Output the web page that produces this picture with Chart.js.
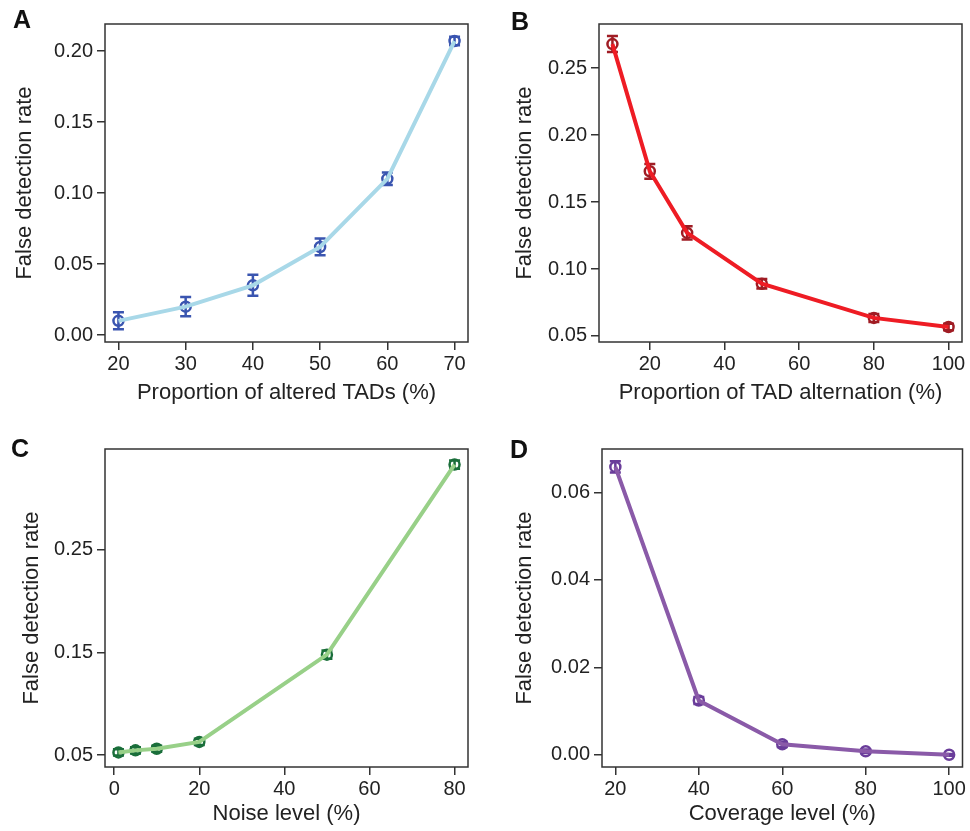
<!DOCTYPE html>
<html>
<head>
<meta charset="utf-8">
<script src="https://cdn.jsdelivr.net/npm/chart.js@4.4.1/dist/chart.umd.min.js"></script>
<style>
    body { margin: 0; background: #fff; width: 970px; height: 831px; position: relative; overflow: hidden; font-family: "Liberation Sans", Arial, sans-serif; }
    canvas { position: absolute; }
    .tag { position: absolute; font-weight: bold; font-size: 25px; line-height: 25px; color: #111; }
</style>
</head>
<body>
<canvas id="chartA" width="485" height="410" style="left:0;top:0"></canvas>
<canvas id="chartB" width="485" height="410" style="left:485px;top:0"></canvas>
<canvas id="chartC" width="485" height="421" style="left:0;top:410px"></canvas>
<canvas id="chartD" width="485" height="421" style="left:485px;top:410px"></canvas>
<div class="tag" style="left:13px;top:7px">A</div>
<div class="tag" style="left:511px;top:9px">B</div>
<div class="tag" style="left:11px;top:436px">C</div>
<div class="tag" style="left:510px;top:437px">D</div>
<script>
// panel A: proportion of altered TADs
const xA = [20, 30, 40, 50, 60, 70];
const yA = [0.010, 0.020, 0.035, 0.062, 0.110, 0.207];
const errA = [0.006, 0.0068, 0.0074, 0.0059, 0.0044, 0.003];
const xTicksA = [20, 30, 40, 50, 60, 70];
const yTicksA = [0.00, 0.05, 0.10, 0.15, 0.20];

// panel B: proportion of TAD alternation
const xB = [10, 20, 30, 50, 80, 100];
const yB = [0.268, 0.173, 0.127, 0.089, 0.0635, 0.0567];
const errB = [0.006, 0.0055, 0.005, 0.0035, 0.003, 0.0025];
const xTicksB = [20, 40, 60, 80, 100];
const yTicksB = [0.05, 0.10, 0.15, 0.20, 0.25];

// panel C: noise level
const xC = [1, 5, 10, 20, 50, 80];
const yC = [0.0525, 0.0545, 0.0561, 0.0627, 0.1477, 0.3328];
const errC = [0.003, 0.003, 0.003, 0.003, 0.004, 0.004];
const xTicksC = [0, 20, 40, 60, 80];
const yTicksC = [0.05, 0.15, 0.25];

// panel D: coverage level
const xD = [20, 40, 60, 80, 100];
const yD = [0.0658, 0.0124, 0.0024, 0.0008, 0.0];
const errD = [0.0013, 0.0008, 0.0006, 0.0004, 0.0002];
const xTicksD = [20, 40, 60, 80, 100];
const yTicksD = [0.00, 0.02, 0.04, 0.06];

const FONT = '"Liberation Sans", Arial, sans-serif';
const AXIS_COLOR = '#333';

function errorBarPlugin(xs, ys, errs, color) {
    return {
        id: 'errorBars',
        beforeDatasetsDraw(chart) {
            const { ctx, scales: { x, y } } = chart;
            ctx.save();
            ctx.strokeStyle = color;
            ctx.lineWidth = 2.5;
            xs.forEach((v, i) => {
                const px = x.getPixelForValue(v);
                const top = y.getPixelForValue(ys[i] + errs[i]);
                const bot = y.getPixelForValue(ys[i] - errs[i]);
                ctx.beginPath();
                ctx.moveTo(px, top); ctx.lineTo(px, bot);
                ctx.moveTo(px - 5.5, top); ctx.lineTo(px + 5.5, top);
                ctx.moveTo(px - 5.5, bot); ctx.lineTo(px + 5.5, bot);
                ctx.stroke();
            });
            ctx.restore();
        }
    };
}

const boxPlugin = {
    id: 'box',
    beforeDatasetsDraw(chart) {
        const { ctx, chartArea: a } = chart;
        ctx.save();
        ctx.strokeStyle = AXIS_COLOR;
        ctx.lineWidth = 1.5;
        ctx.strokeRect(a.left, a.top, a.right - a.left, a.bottom - a.top);
        ctx.restore();
    }
};

function makePanel(id, p) {
    const pts = p.xs.map((v, i) => ({ x: v, y: p.ys[i] }));
    const canvas = document.getElementById(id);
    const W = canvas.width, H = canvas.height;
    return new Chart(canvas, {
        type: 'scatter',
        data: {
            datasets: [
                {
                    data: pts,
                    showLine: true,
                    borderColor: p.lineColor,
                    borderWidth: 4,
                    pointRadius: 0,
                    tension: 0
                },
                {
                    data: pts,
                    showLine: false,
                    pointRadius: 5,
                    pointBorderWidth: 2.5,
                    pointBorderColor: p.pointColor,
                    pointBackgroundColor: 'transparent'
                }
            ]
        },
        options: {
            responsive: false,
            animation: false,
            layout: { padding: { left: 0, top: p.area[1], right: W - p.area[2], bottom: 0 } },
            plugins: { legend: { display: false }, tooltip: { enabled: false } },
            scales: {
                x: {
                    min: p.xRange[0], max: p.xRange[1],
                    afterBuildTicks: s => { s.ticks = p.xTicks.map(v => ({ value: v })); },
                    afterFit: s => { s.height = H - p.area[3]; },
                    grid: { drawOnChartArea: false, drawTicks: true, tickLength: 8, color: AXIS_COLOR, lineWidth: 1.5 },
                    border: { display: false },
                    ticks: { padding: 2, color: '#222', font: { family: FONT, size: 20 }, callback: v => String(v), maxRotation: 0 },
                    title: { display: true, text: p.xTitle, color: '#222', font: { family: FONT, size: 22 }, padding: { bottom: 4, top: 0 } }
                },
                y: {
                    min: p.yRange[0], max: p.yRange[1],
                    afterBuildTicks: s => { s.ticks = p.yTicks.map(v => ({ value: v })); },
                    afterFit: s => { s.width = p.area[0]; },
                    grid: { drawOnChartArea: false, drawTicks: true, tickLength: 8, color: AXIS_COLOR, lineWidth: 1.5 },
                    border: { display: false },
                    ticks: { padding: 4, color: '#222', font: { family: FONT, size: 20 }, callback: v => v.toFixed(2) },
                    title: { display: true, text: 'False detection rate', color: '#222', font: { family: FONT, size: 22 }, padding: { top: p.yTitlePad, bottom: 0 } }
                }
            }
        },
        plugins: [boxPlugin, errorBarPlugin(p.xs, p.ys, p.errs, p.pointColor)]
    });
}

makePanel('chartA', {
    xs: xA, ys: yA, errs: errA, xTicks: xTicksA, yTicks: yTicksA,
    xRange: [18, 72], yRange: [-0.0049, 0.219],
    area: [105, 24, 468, 342], yTitlePad: 12,
    xTitle: 'Proportion of altered TADs (%)',
    lineColor: '#a8d8e8', pointColor: '#3a55b0'
});
makePanel('chartB', {
    xs: xB, ys: yB, errs: errB, xTicks: xTicksB, yTicks: yTicksB,
    xRange: [6.4, 103.6], yRange: [0.0455, 0.283],
    area: [114, 24, 477, 342], yTitlePad: 27,
    xTitle: 'Proportion of TAD alternation (%)',
    lineColor: '#ee1c24', pointColor: '#a01c24'
});
makePanel('chartC', {
    xs: xC, ys: yC, errs: errC, xTicks: xTicksC, yTicks: yTicksC,
    xRange: [-2.16, 83.16], yRange: [0.0383, 0.348],
    area: [105, 39, 468, 357], yTitlePad: 19,
    xTitle: 'Noise level (%)',
    lineColor: '#98d088', pointColor: '#1a6e3a'
});
makePanel('chartD', {
    xs: xD, ys: yD, errs: errD, xTicks: xTicksD, yTicks: yTicksD,
    xRange: [16.8, 103.2], yRange: [-0.0028, 0.0699],
    area: [117, 39, 480, 357], yTitlePad: 27,
    xTitle: 'Coverage level (%)',
    lineColor: '#8a5aa8', pointColor: '#6a3d9a'
});
</script>
</body>
</html>
